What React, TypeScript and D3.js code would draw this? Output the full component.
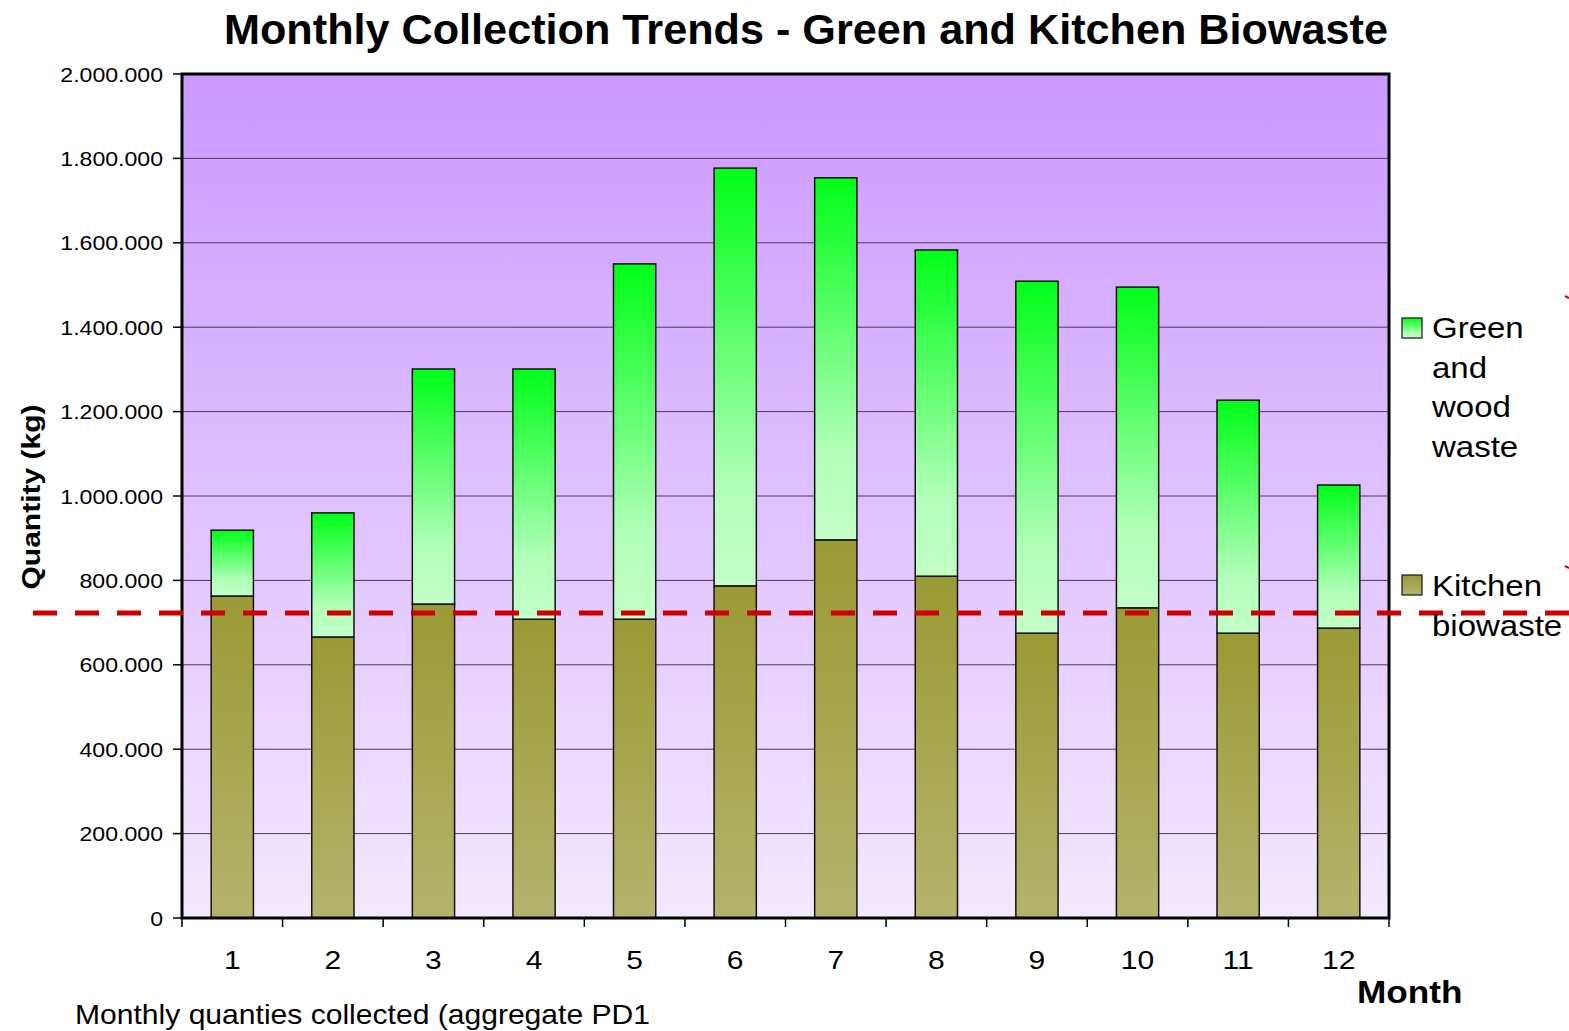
import React from "react";
import * as d3 from "d3";

const months = ["1","2","3","4","5","6","7","8","9","10","11","12"];
const kitchen = [763000, 666000, 744000, 708000, 708000, 787000, 896000, 810000, 675000, 735000, 675000, 687000];
const totals = [919000, 960000, 1301000, 1301000, 1550000, 1777000, 1754000, 1583000, 1509000, 1495000, 1227000, 1026000];
const green = totals.map((t, i) => t - kitchen[i]);
const yTicks = [0, 200000, 400000, 600000, 800000, 1000000, 1200000, 1400000, 1600000, 1800000, 2000000];
const refValue = 723000;
const legendGreen = ["Green", "and", "wood", "waste"];
const legendKitchen = ["Kitchen", "biowaste"];

const W = 1569, H = 1031;
const L = 182, R = 1389, T = 74, B = 918;

function ST(props: { x: number; y: number; sx: number; size: number; anchor?: string; bold?: boolean; children: any }) {
  const { x, y, sx, size, anchor, bold, children } = props;
  return (
    <text
      transform={`translate(${x},${y}) scale(${sx},1)`}
      textAnchor={anchor || "start"}
      fontSize={size}
      fontWeight={bold ? "bold" : "normal"}
    >
      {children}
    </text>
  );
}

export default function App() {
  const x = d3.scaleBand().domain(months).range([L, R]).paddingInner(0.58).paddingOuter(0.29);
  const y = d3.scaleLinear().domain([0, 2000000]).range([B, T]);
  const fmt = (v: number) => (v === 0 ? "0" : d3.format(",")(v).replace(/,/g, "."));
  const step = (R - L) / months.length;
  const font = "'Liberation Sans', Arial, sans-serif";
  return (
    <svg width={W} height={H} style={{ position: "absolute", left: 0, top: 0 }} fontFamily={font}>
      <defs>
        <linearGradient id="bg" x1="0" y1="0" x2="0" y2="1">
          <stop offset="0" stopColor="#cc99ff" />
          <stop offset="1" stopColor="#f3e9ff" />
        </linearGradient>
        <linearGradient id="gk" x1="0" y1="0" x2="0" y2="1">
          <stop offset="0" stopColor="#9a9a35" />
          <stop offset="1" stopColor="#b4b46e" />
        </linearGradient>
        <linearGradient id="gg" x1="0" y1="0" x2="0" y2="1">
          <stop offset="0" stopColor="#00ff18" />
          <stop offset="0.75" stopColor="#b0ffb8" />
          <stop offset="1" stopColor="#c4ffc8" />
        </linearGradient>
      </defs>
      <rect x={0} y={0} width={W} height={H} fill="#fff" />
      <text x={224} y={44} fontSize={43} fontWeight="bold" textLength={1164} lengthAdjust="spacingAndGlyphs">Monthly Collection Trends - Green and Kitchen Biowaste</text>
      <rect x={L} y={T} width={R - L} height={B - T} fill="url(#bg)" />
      {yTicks.slice(1, -1).map((t) => (
        <line key={t} x1={L} x2={R} y1={y(t)} y2={y(t)} stroke="#4a3a5a" strokeWidth={1} />
      ))}
      {months.map((m, i) => (
        <g key={m}>
          <rect x={x(m)} y={y(kitchen[i])} width={x.bandwidth()} height={B - y(kitchen[i])} fill="url(#gk)" stroke="#111" strokeWidth={1.5} />
          <rect x={x(m)} y={y(totals[i])} width={x.bandwidth()} height={y(totals[i] - green[i]) - y(totals[i])} fill="url(#gg)" stroke="#111" strokeWidth={1.5} />
        </g>
      ))}
      <rect x={L} y={T} width={R - L} height={B - T} fill="none" stroke="#000" strokeWidth={3} />
      {yTicks.map((t) => (
        <g key={t}>
          <line x1={L - 9} x2={L} y1={y(t)} y2={y(t)} stroke="#000" strokeWidth={1.5} />
          <ST x={163} y={y(t) + 7.5} sx={1.1} size={21} anchor="end">{fmt(t)}</ST>
        </g>
      ))}
      {d3.range(months.length + 1).map((i) => (
        <line key={i} x1={L + i * step} x2={L + i * step} y1={B} y2={B + 9} stroke="#000" strokeWidth={1.5} />
      ))}
      {months.map((m) => (
        <ST key={m} x={(x(m) as number) + x.bandwidth() / 2} y={969} sx={1.2} size={25} anchor="middle">{m}</ST>
      ))}
      <text transform="translate(40,497) rotate(-90)" textAnchor="middle" fontSize={26} fontWeight="bold" textLength={185} lengthAdjust="spacingAndGlyphs">Quantity (kg)</text>
      <ST x={1357} y={1003} sx={1.1} size={32} bold>Month</ST>
      <text x={75} y={1024} fontSize={28} textLength={575} lengthAdjust="spacingAndGlyphs">Monthly quanties collected (aggregate PD1</text>
      <line x1={33} x2={W} y1={y(refValue)} y2={y(refValue)} stroke="#cc0000" strokeWidth={5} strokeDasharray="24 18" />
      <line x1={1565} x2={1569} y1={296} y2={298} stroke="#cc0000" strokeWidth={2} />
      <line x1={1565} x2={1569} y1={566} y2={568} stroke="#cc0000" strokeWidth={2} />
      <rect x={1402} y={318} width={20} height={20} fill="url(#gg)" stroke="#111" strokeWidth={1.2} />
      {legendGreen.map((s, i) => (
        <ST key={s} x={1432} y={338 + i * 39.5} sx={1.1} size={30}>{s}</ST>
      ))}
      <rect x={1402} y={575} width={20} height={20} fill="url(#gk)" stroke="#111" strokeWidth={1.2} />
      {legendKitchen.map((s, i) => (
        <ST key={s} x={1432} y={596 + i * 39.5} sx={1.1} size={30}>{s}</ST>
      ))}
    </svg>
  );
}
